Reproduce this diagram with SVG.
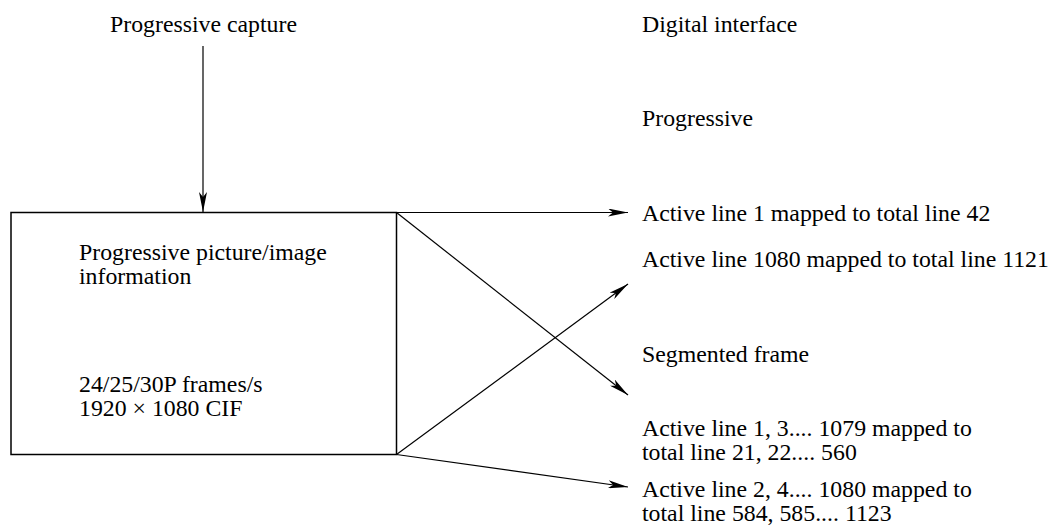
<svg xmlns="http://www.w3.org/2000/svg" width="1052" height="531" viewBox="0 0 1052 531">
<defs>
<style>
text{font-family:"Liberation Serif","Times New Roman",Times,serif;font-size:23.8px;fill:#000}
.ln{stroke:#000;stroke-width:1.2;fill:none}
.box{stroke:#000;stroke-width:1.5;fill:#fff}
</style>
<marker id="ah" markerWidth="20" markerHeight="8" refX="20" refY="4" orient="auto" markerUnits="userSpaceOnUse">
<path d="M0,0 L20,4 L0,8 L5,4 Z" fill="#000"/>
</marker>
</defs>
<rect width="1052" height="531" fill="#fff"/>
<g id="capture">
<text x="110" y="32">Progressive capture</text>
</g>
<g id="interface">
<text x="642" y="32">Digital interface</text>
</g>
<g id="progressive">
<text x="642" y="126">Progressive</text>
</g>
<g id="p1">
<text x="642" y="221">Active line 1 mapped to total line 42</text>
</g>
<g id="p1080">
<text x="642" y="267">Active line 1080 mapped to total line 1121</text>
</g>
<g id="segmented">
<text x="642" y="362">Segmented frame</text>
</g>
<g id="s1">
<text x="642" y="436">Active line 1, 3.... 1079 mapped to</text>
<text x="642" y="460">total line 21, 22.... 560</text>
</g>
<g id="s2">
<text x="642" y="497">Active line 2, 4.... 1080 mapped to</text>
<text x="642" y="521">total line 584, 585.... 1123</text>
</g>
<g id="source">
<rect class="box" x="11" y="212.5" width="385.5" height="242"/>
<text x="79" y="260">Progressive picture/image</text>
<text x="79" y="284">information</text>
<text x="79" y="392">24/25/30P frames/s</text>
<text x="79" y="416">1920 × 1080 CIF</text>
</g>
<g id="connectors">
<line class="ln" x1="203" y1="46" x2="203" y2="212" marker-end="url(#ah)"/>
<line class="ln" x1="396.5" y1="212.5" x2="628" y2="212.5" marker-end="url(#ah)"/>
<line class="ln" x1="396.5" y1="212.5" x2="628" y2="395" marker-end="url(#ah)"/>
<line class="ln" x1="396.5" y1="454.5" x2="628" y2="284" marker-end="url(#ah)"/>
<line class="ln" x1="396.5" y1="454.5" x2="628" y2="487" marker-end="url(#ah)"/>
</g>
</svg>
